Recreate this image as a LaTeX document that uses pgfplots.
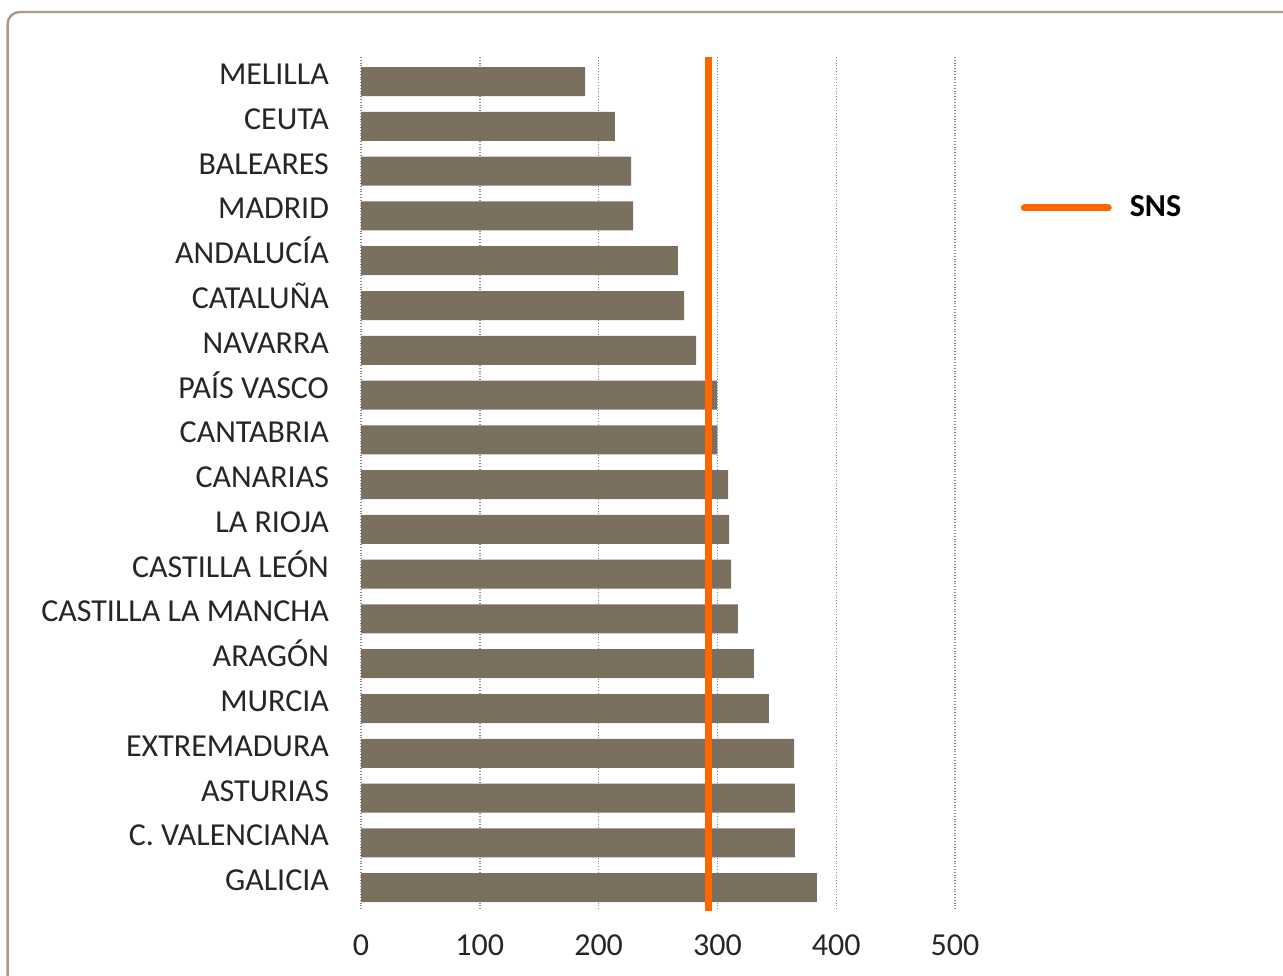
\documentclass[border=0pt]{standalone}
\usepackage{fontspec}
\setmainfont{Carlito}
\usepackage{pgfplots}
\pgfplotsset{compat=1.18}
\definecolor{barc}{HTML}{7B7060}
\definecolor{snsc}{HTML}{FF6600}
\definecolor{framec}{HTML}{A89A8C}
\begin{document}
\begin{tikzpicture}
\useasboundingbox (0,0) rectangle (641.5pt,487.5pt);
\clip (0,0) rectangle (641.5pt,487.5pt);
\draw[framec, line width=1.2pt, rounded corners=6pt] (3.8pt,-20pt) -- (3.8pt,481.5pt) -- (680pt,481.5pt);
\begin{axis}[
  at={(180.5pt,32.5pt)}, anchor=south west,
  width=297pt, height=426.5pt, scale only axis,
  xmin=0, xmax=500, ymin=-0.55, ymax=18.5,
  y dir=reverse,
  axis line style={draw=none},
  xtick={0,100,200,300,400,500},
  ytick={0,...,18},
  yticklabels={MELILLA,CEUTA,BALEARES,MADRID,ANDALUCÍA,CATALUÑA,NAVARRA,PAÍS VASCO,CANTABRIA,CANARIAS,LA RIOJA,CASTILLA LEÓN,CASTILLA LA MANCHA,ARAGÓN,MURCIA,EXTREMADURA,ASTURIAS,C. VALENCIANA,GALICIA},
  major tick length=0pt,
  xmajorgrids, grid style={black!45, densely dotted, line width=0.7pt},
  tick label style={font=\fontsize{16}{19}\selectfont, text=black!85},
  /pgf/number format/assume math mode=true,
  xticklabel style={yshift=-9pt},
  yticklabel style={anchor=east, text height=11pt, text depth=0pt, xshift=-12.5pt, yshift=4pt},
  legend style={at={(1.100,0.823)}, anchor=west, draw=none, fill=none, font=\fontsize{16}{19}\selectfont\bfseries, legend cell align=left},
  legend image code/.code={\draw[#1, line cap=round] (0pt,0pt) -- (42pt,0pt);},
]
\addplot[xbar, bar width=14.5pt, fill=barc, draw=none, forget plot] coordinates {
(188.6,0) (213.8,1) (227.3,2) (229,3) (266.8,4) (271.9,5) (282,6) (299.7,7) (300,8) (309,9) (309.8,10) (311.5,11) (317.3,12) (330.8,13) (343.4,14) (364.5,15) (365.3,16) (365.3,17) (383.8,18)
};
\addplot[snsc, line width=3.5pt, line cap=round] coordinates {(292.9,-0.53) (292.9,18.53)};
\addlegendentry{\hspace{7pt}SNS}
\end{axis}
\end{tikzpicture}
\end{document}
